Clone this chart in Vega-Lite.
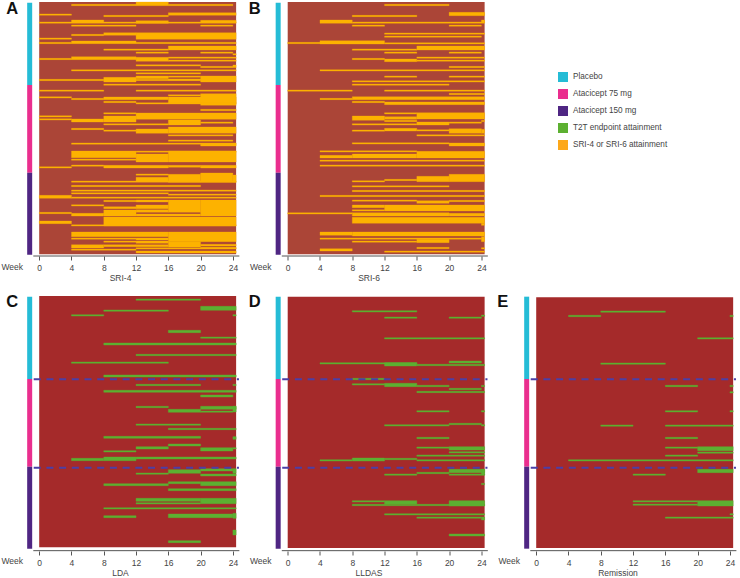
{"$schema":"https://vega.github.io/schema/vega-lite/v6.json","padding":0,"background":"white","bounds":"flush","columns":3,"spacing":{"row":34,"column":8.5},
"config":{"view":{"stroke":null},"font":"Liberation Sans","axisX":{"domain":false,"grid":false,"tickSize":4,"tickColor":"#555","labelColor":"#444","labelFontSize":8.5,"labelFont":"Liberation Sans","labelPadding":3,"labelAngle":0,"titleColor":"#444","titleFontSize":8.5,"titleFont":"Liberation Sans","titleFontWeight":"normal","titlePadding":2,"labelFlush":false}},
"datasets":{
"arms1":[{"arm":"Placebo","w0":-1.49,"w1":-0.87,"r0":8,"r1":255},{"arm":"Atacicept 75 mg","w0":-1.49,"w1":-0.87,"r0":255,"r1":518},{"arm":"Atacicept 150 mg","w0":-1.49,"w1":-0.87,"r0":518,"r1":764}],
"arms2":[{"arm":"Placebo","w0":-1.49,"w1":-0.87,"r0":20,"r1":267},{"arm":"Atacicept 75 mg","w0":-1.49,"w1":-0.87,"r0":267,"r1":530},{"arm":"Atacicept 150 mg","w0":-1.49,"w1":-0.87,"r0":530,"r1":776}],
"axis1":[{"w0":-0.73,"w1":24.8,"r0":768}],
"axis2":[{"w0":-0.73,"w1":24.8,"r0":782}],
"dash":[{"w0":-0.68,"w1":24.75,"r0":268},{"w0":-0.68,"w1":24.75,"r0":533}],
"A":[{"w0":4,"w1":12,"r0":13,"r1":17},{"w0":12,"w1":16,"r0":6,"r1":17},{"w0":16,"w1":24,"r0":13,"r1":17},{"w0":0,"w1":4,"r0":42,"r1":46},{"w0":8,"w1":16,"r0":46,"r1":50},{"w0":16,"w1":24.4,"r0":38,"r1":46},{"w0":4,"w1":8,"r0":60,"r1":68},{"w0":0,"w1":24.4,"r0":66,"r1":70},{"w0":12,"w1":16,"r0":62,"r1":70},{"w0":20,"w1":24.4,"r0":61,"r1":68},{"w0":4,"w1":12,"r0":75,"r1":79},{"w0":20,"w1":24,"r0":75,"r1":79},{"w0":4,"w1":8,"r0":103,"r1":107},{"w0":8,"w1":12,"r0":98,"r1":106},{"w0":12,"w1":24.4,"r0":98,"r1":118},{"w0":0,"w1":4,"r0":114,"r1":118},{"w0":0,"w1":4,"r0":127,"r1":131},{"w0":4,"w1":12,"r0":123,"r1":131},{"w0":12,"w1":24.4,"r0":127,"r1":131},{"w0":8,"w1":16,"r0":147,"r1":151},{"w0":16,"w1":24.4,"r0":138,"r1":150},{"w0":12,"w1":16,"r0":156,"r1":160},{"w0":20,"w1":24,"r0":156,"r1":160},{"w0":24,"w1":24.4,"r0":161,"r1":165},{"w0":0,"w1":4,"r0":175,"r1":179},{"w0":4,"w1":12,"r0":170,"r1":179},{"w0":12,"w1":16,"r0":172,"r1":184},{"w0":16,"w1":24.4,"r0":171,"r1":175},{"w0":16,"w1":24.4,"r0":180,"r1":184},{"w0":12,"w1":20,"r0":194,"r1":198},{"w0":24,"w1":24.4,"r0":195,"r1":203},{"w0":20,"w1":24,"r0":199,"r1":203},{"w0":4,"w1":24.4,"r0":209,"r1":213},{"w0":12,"w1":20,"r0":218,"r1":222},{"w0":12,"w1":16,"r0":228,"r1":236},{"w0":16,"w1":20,"r0":228,"r1":232},{"w0":20,"w1":24.4,"r0":228,"r1":246},{"w0":16,"w1":20,"r0":237,"r1":241},{"w0":0,"w1":8,"r0":238,"r1":242},{"w0":8,"w1":12,"r0":232,"r1":246},{"w0":12,"w1":20,"r0":238,"r1":242},{"w0":8,"w1":20,"r0":252,"r1":256},{"w0":0,"w1":8,"r0":270,"r1":274},{"w0":12,"w1":24.4,"r0":270,"r1":274},{"w0":16,"w1":20,"r0":284,"r1":288},{"w0":20,"w1":24.4,"r0":281,"r1":316},{"w0":0,"w1":4,"r0":290,"r1":294},{"w0":4,"w1":8,"r0":295,"r1":299},{"w0":8,"w1":16,"r0":291,"r1":299},{"w0":16,"w1":24.4,"r0":291,"r1":310},{"w0":8,"w1":12,"r0":304,"r1":308},{"w0":12,"w1":24.4,"r0":308,"r1":312},{"w0":20,"w1":24.4,"r0":328,"r1":332},{"w0":8,"w1":12,"r0":338,"r1":342},{"w0":12,"w1":24.4,"r0":339,"r1":358},{"w0":0,"w1":4,"r0":347,"r1":351},{"w0":0,"w1":4,"r0":356,"r1":360},{"w0":4,"w1":8,"r0":357,"r1":366},{"w0":8,"w1":12,"r0":348,"r1":366},{"w0":20,"w1":24,"r0":366,"r1":370},{"w0":16,"w1":20,"r0":360,"r1":375},{"w0":8,"w1":16,"r0":371,"r1":375},{"w0":16,"w1":24.4,"r0":381,"r1":400},{"w0":4,"w1":8,"r0":385,"r1":389},{"w0":8,"w1":12,"r0":390,"r1":394},{"w0":12,"w1":16,"r0":387,"r1":400},{"w0":16,"w1":24,"r0":404,"r1":408},{"w0":16,"w1":24,"r0":420,"r1":424},{"w0":4,"w1":24.4,"r0":429,"r1":433},{"w0":20,"w1":24.4,"r0":431,"r1":438},{"w0":4,"w1":12,"r0":453,"r1":473},{"w0":12,"w1":24.4,"r0":453,"r1":457},{"w0":12,"w1":16,"r0":462,"r1":486},{"w0":16,"w1":24.4,"r0":453,"r1":486},{"w0":4,"w1":12,"r0":477,"r1":481},{"w0":0,"w1":4,"r0":500,"r1":504},{"w0":4,"w1":8,"r0":495,"r1":499},{"w0":8,"w1":16,"r0":496,"r1":504},{"w0":16,"w1":20,"r0":496,"r1":502},{"w0":20,"w1":24.4,"r0":496,"r1":504},{"w0":12,"w1":16,"r0":522,"r1":526},{"w0":12,"w1":16,"r0":532,"r1":544},{"w0":16,"w1":20,"r0":523,"r1":547},{"w0":20,"w1":24,"r0":519,"r1":547},{"w0":24,"w1":24.4,"r0":525,"r1":547},{"w0":4,"w1":24.4,"r0":543,"r1":547},{"w0":4,"w1":20,"r0":556,"r1":560},{"w0":4,"w1":24.4,"r0":570,"r1":574},{"w0":4,"w1":16,"r0":578,"r1":582},{"w0":16,"w1":24.4,"r0":582,"r1":586},{"w0":0,"w1":4,"r0":586,"r1":595},{"w0":4,"w1":24.4,"r0":591,"r1":595},{"w0":8,"w1":12,"r0":601,"r1":605},{"w0":12,"w1":16,"r0":600,"r1":606},{"w0":12,"w1":16,"r0":615,"r1":626},{"w0":12,"w1":16,"r0":629,"r1":637},{"w0":16,"w1":20,"r0":600,"r1":637},{"w0":20,"w1":24.4,"r0":600,"r1":648},{"w0":4,"w1":8,"r0":614,"r1":618},{"w0":8,"w1":12,"r0":620,"r1":626},{"w0":8,"w1":12,"r0":630,"r1":648},{"w0":12,"w1":20,"r0":642,"r1":648},{"w0":0,"w1":4,"r0":637,"r1":641},{"w0":4,"w1":8,"r0":640,"r1":648},{"w0":0,"w1":4,"r0":663,"r1":671},{"w0":8,"w1":24.4,"r0":651,"r1":678},{"w0":4,"w1":24.4,"r0":674,"r1":678},{"w0":4,"w1":16,"r0":696,"r1":710},{"w0":16,"w1":24.4,"r0":696,"r1":725},{"w0":4,"w1":12,"r0":714,"r1":718},{"w0":12,"w1":16,"r0":714,"r1":720},{"w0":8,"w1":12,"r0":723,"r1":727},{"w0":12,"w1":16,"r0":723,"r1":730},{"w0":16,"w1":20,"r0":725,"r1":741},{"w0":4,"w1":8,"r0":734,"r1":744},{"w0":8,"w1":12,"r0":734,"r1":740},{"w0":12,"w1":16,"r0":734,"r1":740},{"w0":20,"w1":24.4,"r0":733,"r1":738},{"w0":20,"w1":24.4,"r0":742,"r1":746},{"w0":4,"w1":12,"r0":747,"r1":751},{"w0":12,"w1":24.4,"r0":743,"r1":747},{"w0":12,"w1":24.4,"r0":753,"r1":759}],
"B":[{"w0":12,"w1":20,"r0":13,"r1":17},{"w0":8,"w1":16,"r0":46,"r1":50},{"w0":20,"w1":24.4,"r0":37,"r1":47},{"w0":4,"w1":8,"r0":60,"r1":70},{"w0":8,"w1":24.4,"r0":66,"r1":70},{"w0":24,"w1":24.4,"r0":60,"r1":68},{"w0":8,"w1":12,"r0":75,"r1":79},{"w0":20,"w1":24,"r0":75,"r1":79},{"w0":12,"w1":24.4,"r0":99,"r1":103},{"w0":12,"w1":24,"r0":108,"r1":112},{"w0":0,"w1":4,"r0":127,"r1":131},{"w0":4,"w1":12,"r0":122,"r1":132},{"w0":12,"w1":24.4,"r0":128,"r1":132},{"w0":8,"w1":16,"r0":147,"r1":151},{"w0":16,"w1":24.4,"r0":138,"r1":150},{"w0":12,"w1":16,"r0":156,"r1":160},{"w0":20,"w1":24,"r0":156,"r1":160},{"w0":8,"w1":12,"r0":175,"r1":179},{"w0":12,"w1":16,"r0":177,"r1":185},{"w0":16,"w1":24.4,"r0":171,"r1":175},{"w0":16,"w1":24.4,"r0":180,"r1":184},{"w0":20,"w1":24.4,"r0":199,"r1":203},{"w0":4,"w1":24.4,"r0":209,"r1":213},{"w0":12,"w1":16,"r0":228,"r1":232},{"w0":20,"w1":24.4,"r0":228,"r1":232},{"w0":8,"w1":24.4,"r0":242,"r1":246},{"w0":8,"w1":20,"r0":252,"r1":256},{"w0":0,"w1":8,"r0":270,"r1":274},{"w0":12,"w1":24.4,"r0":270,"r1":274},{"w0":20,"w1":24.4,"r0":280,"r1":284},{"w0":4,"w1":8,"r0":295,"r1":299},{"w0":8,"w1":24.4,"r0":290,"r1":299},{"w0":8,"w1":12,"r0":304,"r1":308},{"w0":12,"w1":24.4,"r0":306,"r1":314},{"w0":12,"w1":16,"r0":338,"r1":342},{"w0":16,"w1":24.4,"r0":338,"r1":357},{"w0":8,"w1":12,"r0":348,"r1":361},{"w0":12,"w1":16,"r0":350,"r1":358},{"w0":12,"w1":16,"r0":361,"r1":365},{"w0":16,"w1":20,"r0":366,"r1":375},{"w0":20,"w1":24,"r0":366,"r1":370},{"w0":24,"w1":24.4,"r0":361,"r1":365},{"w0":8,"w1":16,"r0":371,"r1":375},{"w0":8,"w1":12,"r0":390,"r1":394},{"w0":12,"w1":16,"r0":385,"r1":393},{"w0":16,"w1":20,"r0":389,"r1":393},{"w0":20,"w1":24,"r0":386,"r1":400},{"w0":24,"w1":24.4,"r0":388,"r1":400},{"w0":16,"w1":24.4,"r0":404,"r1":408},{"w0":8,"w1":20,"r0":428,"r1":432},{"w0":20,"w1":24.4,"r0":429,"r1":438},{"w0":4,"w1":16,"r0":452,"r1":456},{"w0":4,"w1":8,"r0":466,"r1":474},{"w0":8,"w1":16,"r0":462,"r1":474},{"w0":16,"w1":24.4,"r0":454,"r1":474},{"w0":4,"w1":24.4,"r0":480,"r1":484},{"w0":4,"w1":24.4,"r0":495,"r1":499},{"w0":12,"w1":16,"r0":538,"r1":542},{"w0":8,"w1":12,"r0":542,"r1":546},{"w0":16,"w1":20,"r0":529,"r1":545},{"w0":20,"w1":24.4,"r0":523,"r1":545},{"w0":8,"w1":20,"r0":557,"r1":561},{"w0":8,"w1":24.4,"r0":571,"r1":575},{"w0":4,"w1":24.4,"r0":586,"r1":590},{"w0":8,"w1":16,"r0":600,"r1":604},{"w0":16,"w1":20,"r0":602,"r1":610},{"w0":20,"w1":24.4,"r0":601,"r1":605},{"w0":8,"w1":12,"r0":615,"r1":623},{"w0":12,"w1":24.4,"r0":615,"r1":633},{"w0":8,"w1":12,"r0":629,"r1":633},{"w0":0,"w1":8,"r0":638,"r1":642},{"w0":8,"w1":20,"r0":638,"r1":648},{"w0":20,"w1":24.4,"r0":640,"r1":648},{"w0":8,"w1":24.4,"r0":652,"r1":670},{"w0":24,"w1":24.4,"r0":670,"r1":676},{"w0":4,"w1":8,"r0":696,"r1":706},{"w0":8,"w1":24.4,"r0":696,"r1":708},{"w0":4,"w1":24,"r0":714,"r1":718},{"w0":24,"w1":24.4,"r0":710,"r1":725},{"w0":8,"w1":16,"r0":723,"r1":727},{"w0":16,"w1":20,"r0":718,"r1":728},{"w0":4,"w1":8,"r0":746,"r1":753},{"w0":16,"w1":20,"r0":742,"r1":746},{"w0":24,"w1":24.4,"r0":743,"r1":747},{"w0":12,"w1":24.4,"r0":753,"r1":757}],
"C":[{"w0":12,"w1":20,"r0":27,"r1":31},{"w0":20,"w1":24.4,"r0":49,"r1":61},{"w0":8,"w1":16,"r0":60,"r1":64},{"w0":4,"w1":8,"r0":74,"r1":78},{"w0":24,"w1":24.4,"r0":74,"r1":78},{"w0":16,"w1":20,"r0":121,"r1":128},{"w0":20,"w1":24.4,"r0":141,"r1":145},{"w0":8,"w1":24.4,"r0":159,"r1":165},{"w0":12,"w1":24.4,"r0":193,"r1":197},{"w0":4,"w1":16,"r0":216,"r1":220},{"w0":8,"w1":24.4,"r0":255,"r1":261},{"w0":12,"w1":20,"r0":283,"r1":287},{"w0":24,"w1":24.4,"r0":283,"r1":287},{"w0":8,"w1":24.4,"r0":301,"r1":307},{"w0":20,"w1":24,"r0":315,"r1":321},{"w0":12,"w1":16,"r0":349,"r1":353},{"w0":20,"w1":24.4,"r0":349,"r1":358},{"w0":24,"w1":24.4,"r0":349,"r1":366},{"w0":16,"w1":20,"r0":358,"r1":367},{"w0":20,"w1":24,"r0":363,"r1":367},{"w0":12,"w1":20,"r0":402,"r1":406},{"w0":16,"w1":24.4,"r0":415,"r1":419},{"w0":8,"w1":20,"r0":439,"r1":445},{"w0":24,"w1":24.4,"r0":440,"r1":448},{"w0":12,"w1":16,"r0":470,"r1":477},{"w0":16,"w1":20,"r0":462,"r1":468},{"w0":20,"w1":24,"r0":473,"r1":483},{"w0":24,"w1":24.4,"r0":473,"r1":477},{"w0":8,"w1":12,"r0":482,"r1":486},{"w0":4,"w1":8,"r0":505,"r1":512},{"w0":8,"w1":12,"r0":501,"r1":512},{"w0":12,"w1":24.4,"r0":501,"r1":507},{"w0":12,"w1":16,"r0":549,"r1":553},{"w0":16,"w1":20,"r0":539,"r1":550},{"w0":20,"w1":24,"r0":536,"r1":543},{"w0":24,"w1":24.4,"r0":536,"r1":550},{"w0":20,"w1":24.4,"r0":552,"r1":558},{"w0":8,"w1":16,"r0":581,"r1":587},{"w0":16,"w1":20,"r0":575,"r1":581},{"w0":20,"w1":24.4,"r0":575,"r1":587},{"w0":16,"w1":24.4,"r0":596,"r1":602},{"w0":12,"w1":20,"r0":625,"r1":634},{"w0":20,"w1":24.4,"r0":625,"r1":641},{"w0":12,"w1":20,"r0":638,"r1":642},{"w0":8,"w1":24.4,"r0":653,"r1":657},{"w0":8,"w1":12,"r0":677,"r1":683},{"w0":16,"w1":24,"r0":672,"r1":683},{"w0":24,"w1":24.4,"r0":670,"r1":685},{"w0":24,"w1":24.4,"r0":720,"r1":735},{"w0":16,"w1":20,"r0":752,"r1":758}],
"D":[{"w0":8,"w1":16,"r0":62,"r1":66},{"w0":12,"w1":16,"r0":81,"r1":85},{"w0":20,"w1":24,"r0":81,"r1":85},{"w0":24,"w1":24.4,"r0":75,"r1":79},{"w0":12,"w1":24.4,"r0":143,"r1":147},{"w0":20,"w1":24,"r0":213,"r1":219},{"w0":4,"w1":16,"r0":218,"r1":222},{"w0":12,"w1":16,"r0":218,"r1":228},{"w0":16,"w1":24.4,"r0":223,"r1":227},{"w0":8,"w1":12,"r0":265,"r1":269},{"w0":8,"w1":12,"r0":281,"r1":285},{"w0":12,"w1":16,"r0":280,"r1":290},{"w0":16,"w1":20,"r0":286,"r1":290},{"w0":24,"w1":24.4,"r0":286,"r1":290},{"w0":20,"w1":24,"r0":295,"r1":299},{"w0":16,"w1":24.4,"r0":304,"r1":308},{"w0":16,"w1":20,"r0":362,"r1":366},{"w0":24,"w1":24.4,"r0":362,"r1":366},{"w0":12,"w1":20,"r0":404,"r1":408},{"w0":20,"w1":24,"r0":400,"r1":404},{"w0":24,"w1":24.4,"r0":404,"r1":408},{"w0":16,"w1":20,"r0":442,"r1":446},{"w0":16,"w1":20,"r0":471,"r1":475},{"w0":20,"w1":24.4,"r0":470,"r1":480},{"w0":20,"w1":24.4,"r0":485,"r1":489},{"w0":16,"w1":24.4,"r0":495,"r1":499},{"w0":4,"w1":8,"r0":509,"r1":513},{"w0":8,"w1":12,"r0":504,"r1":513},{"w0":12,"w1":16,"r0":505,"r1":509},{"w0":16,"w1":24.4,"r0":509,"r1":513},{"w0":20,"w1":24.4,"r0":538,"r1":548},{"w0":16,"w1":20,"r0":547,"r1":551},{"w0":12,"w1":16,"r0":552,"r1":556},{"w0":20,"w1":24.4,"r0":552,"r1":556},{"w0":24,"w1":24.4,"r0":538,"r1":555},{"w0":24,"w1":24.4,"r0":580,"r1":584},{"w0":8,"w1":12,"r0":632,"r1":636},{"w0":12,"w1":16,"r0":632,"r1":642},{"w0":8,"w1":24.4,"r0":643,"r1":647},{"w0":20,"w1":24.4,"r0":632,"r1":648},{"w0":12,"w1":24.4,"r0":671,"r1":675},{"w0":16,"w1":24,"r0":681,"r1":685},{"w0":24,"w1":24.4,"r0":681,"r1":690},{"w0":20,"w1":24.4,"r0":732,"r1":738}],
"E":[{"w0":8,"w1":16,"r0":63,"r1":67},{"w0":4,"w1":8,"r0":76,"r1":80},{"w0":24,"w1":24.4,"r0":76,"r1":80},{"w0":20,"w1":24.4,"r0":143,"r1":147},{"w0":8,"w1":16,"r0":219,"r1":223},{"w0":16,"w1":20,"r0":286,"r1":290},{"w0":24,"w1":24.4,"r0":286,"r1":290},{"w0":24,"w1":24.4,"r0":305,"r1":309},{"w0":16,"w1":20,"r0":362,"r1":366},{"w0":24,"w1":24.4,"r0":362,"r1":366},{"w0":8,"w1":12,"r0":405,"r1":409},{"w0":16,"w1":24.4,"r0":405,"r1":409},{"w0":16,"w1":20,"r0":442,"r1":446},{"w0":16,"w1":20,"r0":471,"r1":475},{"w0":20,"w1":24.4,"r0":470,"r1":482},{"w0":20,"w1":24.4,"r0":486,"r1":490},{"w0":16,"w1":20,"r0":495,"r1":499},{"w0":4,"w1":24.4,"r0":509,"r1":513},{"w0":20,"w1":24.4,"r0":538,"r1":548},{"w0":12,"w1":16,"r0":552,"r1":556},{"w0":12,"w1":20,"r0":632,"r1":636},{"w0":20,"w1":24.4,"r0":632,"r1":648},{"w0":12,"w1":20,"r0":642,"r1":646},{"w0":24,"w1":24.4,"r0":671,"r1":675},{"w0":16,"w1":24.4,"r0":681,"r1":685}]
},
"concat":[
{"width":240,"height":256,"encoding":{"x":{"field":"w0","type":"quantitative","scale":{"domain":[-4.857,24.88],"nice":false,"zero":false},"axis":{"title":"SRI-4","values":[0,4,8,12,16,20,24]}},"x2":{"field":"w1"},"y":{"field":"r0","type":"quantitative","scale":{"domain":[0,768],"reverse":true,"nice":false,"zero":false},"axis":null},"y2":{"field":"r1"}},"layer":[
{"data":{"values":[{"w0":0,"w1":24.4,"r0":6,"r1":763}]},"mark":{"type":"rect","color":"#AB4537"}},
{"data":{"name":"A"},"mark":{"type":"rect","color":"#FDB200","stroke":"#FDB200","strokeWidth":0.3}},
{"data":{"name":"arms1"},"mark":"rect","encoding":{"color":{"field":"arm","type":"nominal","scale":{"domain":["Placebo","Atacicept 75 mg","Atacicept 150 mg","T2T endpoint attainment","SRI-4 or SRI-6 attainment"],"range":["#25BCD6","#EA2E8E","#4F2683","#5CB031","#FDA81A"]},"legend":{"title":null,"orient":"none","legendX":558,"legendY":72,"symbolType":"square","symbolSize":100,"symbolStrokeWidth":0,"labelFontSize":8.2,"labelFont":"Liberation Sans","labelColor":"#444","rowPadding":7,"labelOffset":5}}}},
{"data":{"name":"axis1"},"mark":{"type":"rule","color":"#555","strokeWidth":1},"encoding":{"y2":null}},
{"data":{"values":[{"t":"Week","w0":-3.35,"r0":801}]},"mark":{"type":"text","fontSize":8.5,"color":"#444"},"encoding":{"x2":null,"y2":null,"text":{"field":"t"}}},
{"data":{"values":[{"t":"A","w0":-3.33,"r0":28}]},"mark":{"type":"text","fontSize":16.5,"fontWeight":"bold","color":"#111"},"encoding":{"x2":null,"y2":null,"text":{"field":"t"}}}
]},
{"width":240,"height":256,"encoding":{"x":{"field":"w0","type":"quantitative","scale":{"domain":[-4.857,24.88],"nice":false,"zero":false},"axis":{"title":"SRI-6","values":[0,4,8,12,16,20,24]}},"x2":{"field":"w1"},"y":{"field":"r0","type":"quantitative","scale":{"domain":[0,768],"reverse":true,"nice":false,"zero":false},"axis":null},"y2":{"field":"r1"}},"layer":[
{"data":{"values":[{"w0":0,"w1":24.4,"r0":6,"r1":763}]},"mark":{"type":"rect","color":"#AB4537"}},
{"data":{"name":"B"},"mark":{"type":"rect","color":"#FDB200","stroke":"#FDB200","strokeWidth":0.3}},
{"data":{"name":"arms1"},"mark":"rect","encoding":{"color":{"field":"arm","type":"nominal"}}},
{"data":{"name":"axis1"},"mark":{"type":"rule","color":"#555","strokeWidth":1},"encoding":{"y2":null}},
{"data":{"values":[{"t":"Week","w0":-3.35,"r0":801}]},"mark":{"type":"text","fontSize":8.5,"color":"#444"},"encoding":{"x2":null,"y2":null,"text":{"field":"t"}}},
{"data":{"values":[{"t":"B","w0":-4.09,"r0":28}]},"mark":{"type":"text","fontSize":16.5,"fontWeight":"bold","color":"#111"},"encoding":{"x2":null,"y2":null,"text":{"field":"t"}}}
]},
{"width":241,"height":256,"data":{"values":[]},"mark":"rect","encoding":{}},
{"width":240,"height":261,"encoding":{"x":{"field":"w0","type":"quantitative","scale":{"domain":[-4.857,24.88],"nice":false,"zero":false},"axis":{"title":"LDA","values":[0,4,8,12,16,20,24]}},"x2":{"field":"w1"},"y":{"field":"r0","type":"quantitative","scale":{"domain":[0,783],"reverse":true,"nice":false,"zero":false},"axis":null},"y2":{"field":"r1"}},"layer":[
{"data":{"values":[{"w0":0,"w1":24.4,"r0":18,"r1":772}]},"mark":{"type":"rect","color":"#A52A2A"}},
{"data":{"name":"C"},"mark":{"type":"rect","color":"#5CB031","stroke":"#5CB031","strokeWidth":0.4}},
{"data":{"name":"arms2"},"mark":"rect","encoding":{"color":{"field":"arm","type":"nominal"}}},
{"data":{"name":"dash"},"mark":{"type":"rule","color":"#4B3FA7","strokeWidth":2,"strokeDash":[7,5.7]},"encoding":{"y2":null}},
{"data":{"name":"axis2"},"mark":{"type":"rule","color":"#555","strokeWidth":1},"encoding":{"y2":null}},
{"data":{"values":[{"t":"Week","w0":-3.35,"r0":812}]},"mark":{"type":"text","fontSize":8.5,"color":"#444"},"encoding":{"x2":null,"y2":null,"text":{"field":"t"}}},
{"data":{"values":[{"t":"C","w0":-3.33,"r0":35}]},"mark":{"type":"text","fontSize":16.5,"fontWeight":"bold","color":"#111"},"encoding":{"x2":null,"y2":null,"text":{"field":"t"}}}
]},
{"width":240,"height":261,"encoding":{"x":{"field":"w0","type":"quantitative","scale":{"domain":[-4.857,24.88],"nice":false,"zero":false},"axis":{"title":"LLDAS","values":[0,4,8,12,16,20,24]}},"x2":{"field":"w1"},"y":{"field":"r0","type":"quantitative","scale":{"domain":[0,783],"reverse":true,"nice":false,"zero":false},"axis":null},"y2":{"field":"r1"}},"layer":[
{"data":{"values":[{"w0":0,"w1":24.4,"r0":20,"r1":774}]},"mark":{"type":"rect","color":"#A52A2A"}},
{"data":{"name":"D"},"mark":{"type":"rect","color":"#5CB031","stroke":"#5CB031","strokeWidth":0.4}},
{"data":{"name":"arms2"},"mark":"rect","encoding":{"color":{"field":"arm","type":"nominal"}}},
{"data":{"name":"dash"},"mark":{"type":"rule","color":"#4B3FA7","strokeWidth":2,"strokeDash":[7,5.7]},"encoding":{"y2":null}},
{"data":{"name":"axis2"},"mark":{"type":"rule","color":"#555","strokeWidth":1},"encoding":{"y2":null}},
{"data":{"values":[{"t":"Week","w0":-3.35,"r0":812}]},"mark":{"type":"text","fontSize":8.5,"color":"#444"},"encoding":{"x2":null,"y2":null,"text":{"field":"t"}}},
{"data":{"values":[{"t":"D","w0":-4.09,"r0":35}]},"mark":{"type":"text","fontSize":16.5,"fontWeight":"bold","color":"#111"},"encoding":{"x2":null,"y2":null,"text":{"field":"t"}}}
]},
{"width":241,"height":261,"encoding":{"x":{"field":"w0","type":"quantitative","scale":{"domain":[-4.857,25],"nice":false,"zero":false},"axis":{"title":"Remission","values":[0,4,8,12,16,20,24]}},"x2":{"field":"w1"},"y":{"field":"r0","type":"quantitative","scale":{"domain":[0,783],"reverse":true,"nice":false,"zero":false},"axis":null},"y2":{"field":"r1"}},"layer":[
{"data":{"values":[{"w0":0,"w1":24.4,"r0":22,"r1":774}]},"mark":{"type":"rect","color":"#A52A2A"}},
{"data":{"name":"E"},"mark":{"type":"rect","color":"#5CB031","stroke":"#5CB031","strokeWidth":0.4}},
{"data":{"name":"arms2"},"mark":"rect","encoding":{"color":{"field":"arm","type":"nominal"}}},
{"data":{"name":"dash"},"mark":{"type":"rule","color":"#4B3FA7","strokeWidth":2,"strokeDash":[7,5.7]},"encoding":{"y2":null}},
{"data":{"name":"axis2"},"mark":{"type":"rule","color":"#555","strokeWidth":1},"encoding":{"y2":null}},
{"data":{"values":[{"t":"Week","w0":-3.35,"r0":812}]},"mark":{"type":"text","fontSize":8.5,"color":"#444"},"encoding":{"x2":null,"y2":null,"text":{"field":"t"}}},
{"data":{"values":[{"t":"E","w0":-4.14,"r0":35}]},"mark":{"type":"text","fontSize":16.5,"fontWeight":"bold","color":"#111"},"encoding":{"x2":null,"y2":null,"text":{"field":"t"}}}
]}
]}
